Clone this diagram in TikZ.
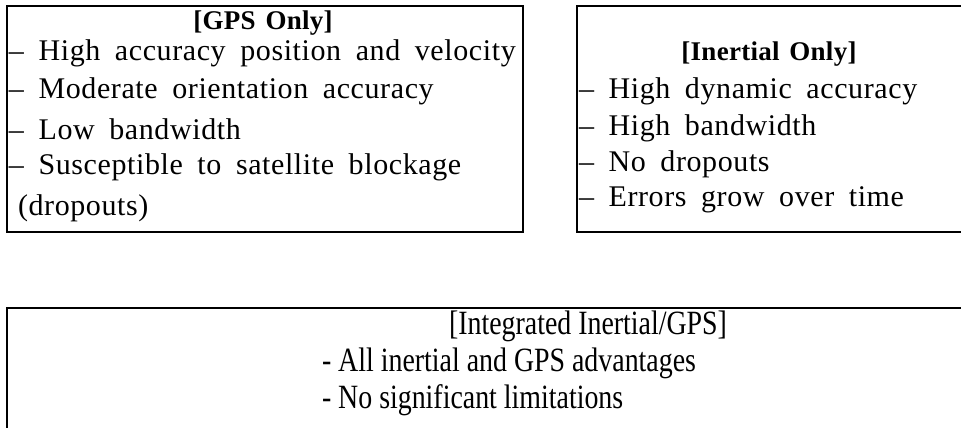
\documentclass[tikz,border=0pt]{standalone}
\usepackage{fontspec}
\setmainfont{Liberation Serif}[WordSpace=1.8, LetterSpace=2]
\newfontfamily\condfont{Liberation Serif}[FakeStretch=0.82]
\newfontfamily\ttlfont{Liberation Serif}[WordSpace=1.4, LetterSpace=1]
\begin{document}
\begin{tikzpicture}[x=1pt,y=-1pt,
  every node/.style={inner sep=0pt, outer sep=0pt},
  boxline/.style={draw=black, line width=1.6pt},
  item/.style={anchor=west, font=\fontsize{30}{34}\selectfont},
  ttl/.style={font=\fontsize{27}{32}\selectfont\ttlfont\bfseries},
  citem/.style={anchor=west, font=\fontsize{34}{38}\selectfont\condfont},
  cttl/.style={font=\fontsize{34}{38}\selectfont\condfont}]
\useasboundingbox (0,0) rectangle (961,428);
\clip (0,0) rectangle (961,428);
% boxes
\draw[boxline] (7,6) rectangle (523,232);
\draw[boxline] (577,6) rectangle (980,232);
\draw[boxline] (7,308) rectangle (980,450);
% GPS only
\node[ttl] (gpsT) at (263,23) {[GPS Only]};
\node[item] (g1) at (9,53) {\textendash\ High accuracy position and velocity};
\node[item] (g2) at (9,91) {\textendash\ Moderate orientation accuracy};
\node[item] (g3) at (9,129) {\textendash\ Low bandwidth};
\node[item] (g4) at (9,167) {\textendash\ Susceptible to satellite blockage};
\node[item] (g5) at (18,208) {(dropouts)};
% Inertial only
\node[ttl] (inT) at (769,54) {[Inertial Only]};
\node[item] (i1) at (579,91) {\textendash\ High dynamic accuracy};
\node[item] (i2) at (579,128) {\textendash\ High bandwidth};
\node[item] (i3) at (579,164) {\textendash\ No dropouts};
\node[item] (i4) at (579,200) {\textendash\ Errors grow over time};
% Integrated
\node[cttl] (itT) at (588,326) {[Integrated Inertial/GPS]};
\node[citem] (t1) at (322,363) {- All inertial and GPS advantages};
\node[citem] (t2) at (322,400) {- No significant limitations};
\end{tikzpicture}
\end{document}
